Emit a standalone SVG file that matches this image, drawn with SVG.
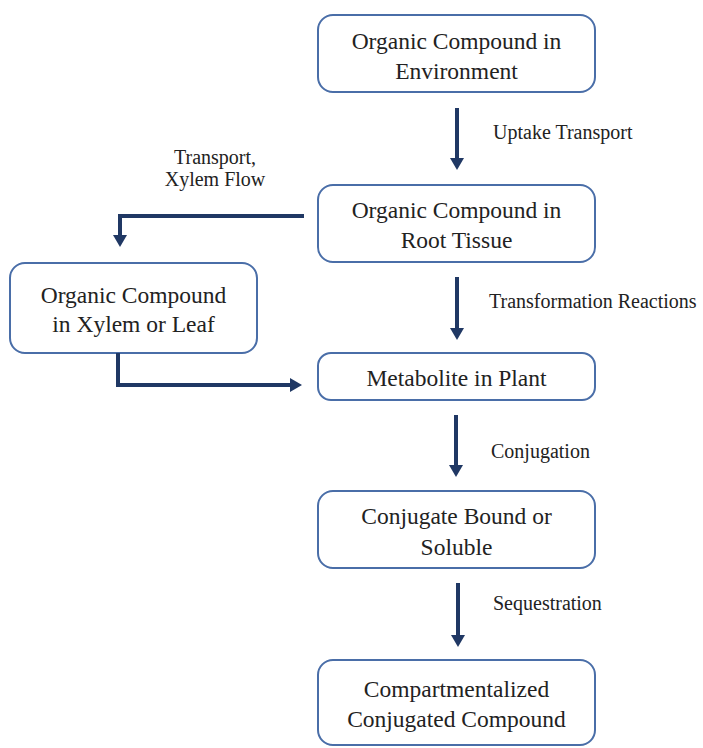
<svg xmlns="http://www.w3.org/2000/svg" width="703" height="748" viewBox="0 0 703 748">
<style>
.box{fill:#fff;stroke:#4a6ea8;stroke-width:2}
.nt{font-family:"Liberation Serif","Times New Roman",serif;font-size:23.5px;fill:#222;text-anchor:middle}
.lb{font-family:"Liberation Serif","Times New Roman",serif;font-size:20px;fill:#222}
.cn{fill:none;stroke:#203864;stroke-width:4}
</style>
<defs>
<marker id="ah" viewBox="0 0 12 14" refX="2" refY="7" markerWidth="12" markerHeight="14" markerUnits="userSpaceOnUse" orient="auto">
<path d="M0,0 L12,7 L0,14 z" fill="#203864"/>
</marker>
</defs>
<rect width="703" height="748" fill="#fff"/>
<g id="n1"><rect class="box" x="318" y="15" width="277" height="77" rx="15"/><text class="nt" x="456.5" y="49">Organic Compound in</text><text class="nt" x="456.5" y="79">Environment</text></g>
<g id="n2"><rect class="box" x="318" y="185" width="277" height="77" rx="15"/><text class="nt" x="456.5" y="218">Organic Compound in</text><text class="nt" x="456.5" y="248">Root Tissue</text></g>
<g id="n3"><rect class="box" x="10" y="263" width="247" height="90" rx="15"/><text class="nt" x="133.5" y="303">Organic Compound</text><text class="nt" x="133.5" y="332">in Xylem or Leaf</text></g>
<g id="n4"><rect class="box" x="318" y="353" width="277" height="47" rx="13"/><text class="nt" x="456.5" y="386">Metabolite in Plant</text></g>
<g id="n5"><rect class="box" x="318" y="491" width="277" height="77" rx="15"/><text class="nt" x="456.5" y="524">Conjugate Bound or</text><text class="nt" x="456.5" y="555">Soluble</text></g>
<g id="n6"><rect class="box" x="318" y="660" width="277" height="85" rx="15"/><text class="nt" x="456.5" y="697">Compartmentalized</text><text class="nt" x="456.5" y="727">Conjugated Compound</text></g>
<g id="connectors">
<path class="cn" d="M457,108 L457,160" marker-end="url(#ah)"/>
<path class="cn" d="M457,277 L457,330" marker-end="url(#ah)"/>
<path class="cn" d="M456,415 L456,467" marker-end="url(#ah)"/>
<path class="cn" d="M458,583 L458,637" marker-end="url(#ah)"/>
<path class="cn" d="M304,216 L120,216 L120,237" marker-end="url(#ah)"/>
<path class="cn" d="M118,353 L118,385 L292,385" marker-end="url(#ah)"/>
<text class="lb" x="493" y="139">Uptake Transport</text>
<text class="lb" x="489" y="308">Transformation Reactions</text>
<text class="lb" x="491" y="458">Conjugation</text>
<text class="lb" x="493" y="610">Sequestration</text>
<text class="lb" x="215" y="164" text-anchor="middle">Transport,</text>
<text class="lb" x="215" y="186" text-anchor="middle">Xylem Flow</text>
</g>
</svg>
